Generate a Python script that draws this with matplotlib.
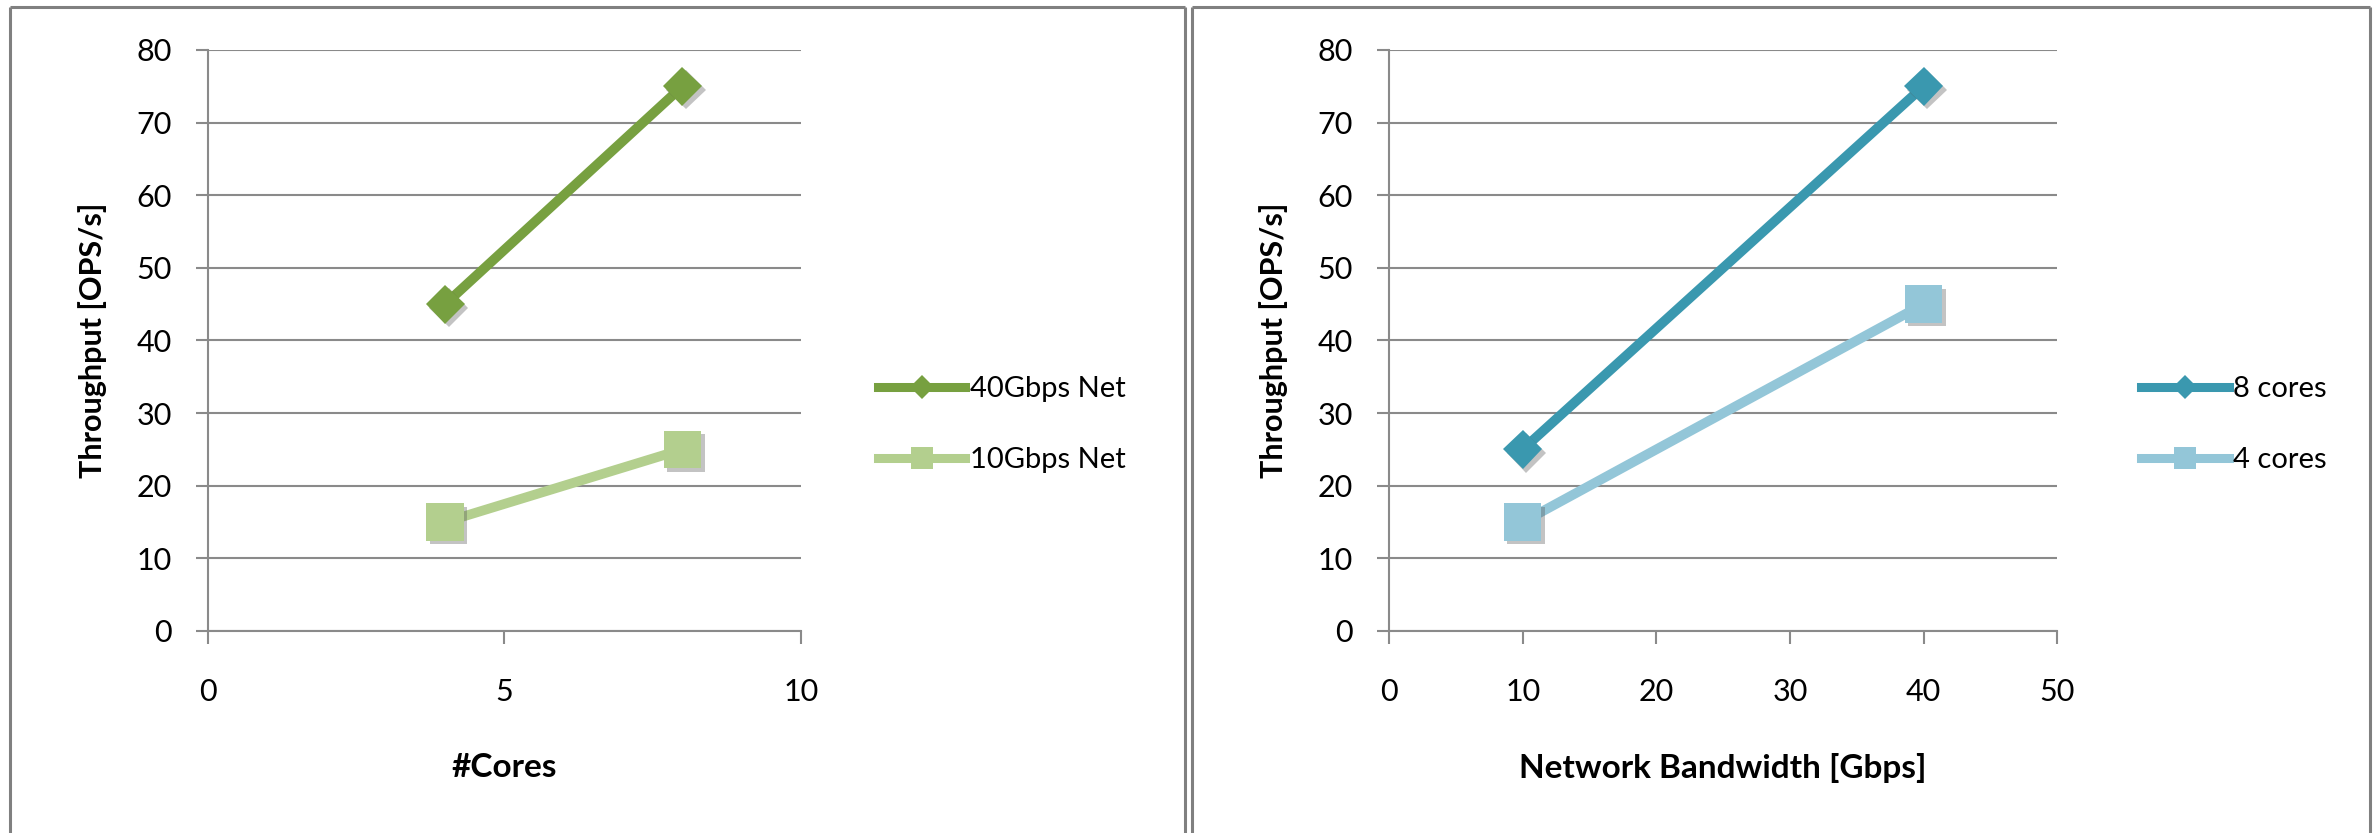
import matplotlib
matplotlib.use('Agg')
import matplotlib.pyplot as plt
from matplotlib.lines import Line2D
import matplotlib.patheffects as pe

plt.rcParams['font.family'] = ['Lato', 'DejaVu Sans']

# data
cores = [4, 8]
net40 = [45, 75]
net10 = [15, 25]

bandwidth = [10, 40]
cores8 = [25, 75]
cores4 = [15, 45]

green_dark = '#77A040'
green_light = '#B3CF8E'
teal_dark = '#3A98AF'
teal_light = '#93C6D8'
grey = '#8a8a8a'

fig = plt.figure(figsize=(23.79, 8.33), dpi=100)

shadow = [pe.SimplePatchShadow(offset=(2.5, -2.5), shadow_rgbFace='#555555', alpha=0.35), pe.Normal()]


def style_axes(ax, xmax, xstep, xlabel):
    ax.set_xlim(0, xmax)
    ax.set_ylim(0, 80)
    ax.set_xticks(range(0, xmax + 1, xstep))
    ax.set_yticks(range(0, 81, 10))
    ax.yaxis.grid(True, color=grey, linewidth=1.5)
    ax.set_axisbelow(True)
    for s in ['top', 'right']:
        ax.spines[s].set_visible(False)
    for s in ['left', 'bottom']:
        ax.spines[s].set_color(grey)
        ax.spines[s].set_linewidth(1.5)
    ax.tick_params(axis='y', direction='out', length=9, width=1.5, color=grey,
                   labelsize=22, pad=17)
    ax.tick_params(axis='x', direction='out', length=9, width=1.5, color=grey,
                   labelsize=22, pad=25)
    ax.set_ylabel('Throughput [OPS/s]', fontsize=22, fontweight='bold', labelpad=21)
    ax.set_xlabel(xlabel, fontsize=24, fontweight='bold', labelpad=34)


def legend_for(ax, x0, entries):
    handles = [Line2D([], [], color=c, lw=6.5, marker=m, ms=ms, markeredgewidth=0)
               for c, m, ms, _ in entries]
    labels = [lab for _, _, _, lab in entries]
    fig.legend(handles, labels, loc='center left', bbox_to_anchor=(x0, 0.49),
               frameon=False, fontsize=21, handlelength=3.0, handletextpad=0.15,
               labelspacing=1.55, borderpad=0, borderaxespad=0)


# left panel: throughput vs cores
ax1 = fig.add_axes([0.0874, 0.2425, 0.2493, 0.6975])
ax1.plot(cores, net40, color=green_dark, lw=7, marker='D', ms=20,
         markeredgewidth=0, path_effects=shadow, solid_capstyle='butt')
ax1.plot(cores, net10, color=green_light, lw=7, marker='s', ms=27,
         markeredgewidth=0, path_effects=shadow, solid_capstyle='butt')
style_axes(ax1, 10, 5, '#Cores')
legend_for(ax1, 0.369, [(green_dark, 'D', 12, '40Gbps Net'),
                        (green_light, 's', 16, '10Gbps Net')])

# right panel: throughput vs bandwidth
ax2 = fig.add_axes([0.5839, 0.2425, 0.2808, 0.6975])
ax2.plot(bandwidth, cores8, color=teal_dark, lw=7, marker='D', ms=20,
         markeredgewidth=0, path_effects=shadow, solid_capstyle='butt')
ax2.plot(bandwidth, cores4, color=teal_light, lw=7, marker='s', ms=27,
         markeredgewidth=0, path_effects=shadow, solid_capstyle='butt')
style_axes(ax2, 50, 10, 'Network Bandwidth [Gbps]')
legend_for(ax2, 0.9, [(teal_dark, 'D', 12, '8 cores'),
                      (teal_light, 's', 16, '4 cores')])

# panel borders
W, H = 2379.0, 833.0
border = dict(color='#808080', linewidth=2.2, solid_capstyle='butt')
for xl, xr in [(9.5, 1184.5), (1192.0, 2369.5)]:
    fig.add_artist(Line2D([xl / W, xl / W], [0, 1 - 6.5 / H], transform=fig.transFigure, **border))
    fig.add_artist(Line2D([xr / W, xr / W], [0, 1 - 6.5 / H], transform=fig.transFigure, **border))
    fig.add_artist(Line2D([xl / W, xr / W], [1 - 6.5 / H, 1 - 6.5 / H], transform=fig.transFigure, **border))

fig.savefig('out.png', dpi=100)
plt.close(fig)
